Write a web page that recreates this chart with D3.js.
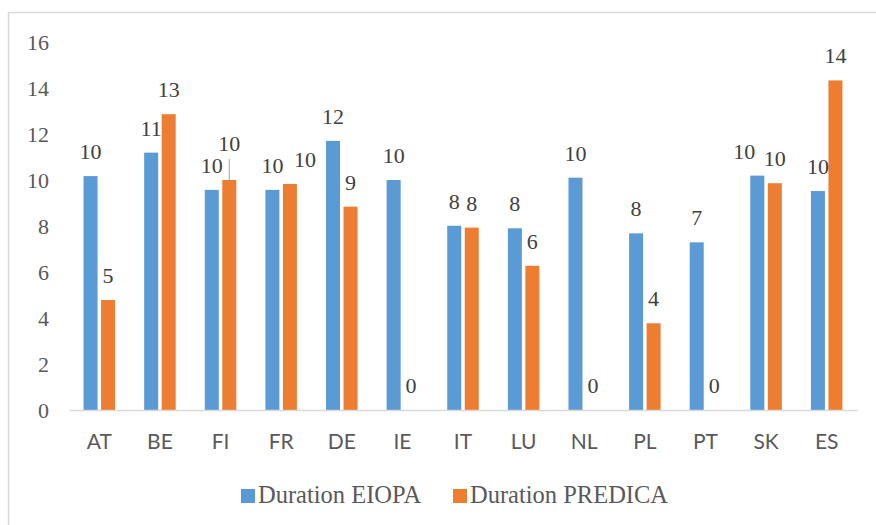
<!DOCTYPE html>
<html>
<head>
<meta charset="utf-8">
<script src="https://cdn.jsdelivr.net/npm/d3@7"></script>
<style>
  body { margin: 0; background: #fff; }
</style>
</head>
<body>
<div id="chart"></div>
<script>
// countries on the x axis
var countries = ["AT", "BE", "FI", "FR", "DE", "IE", "IT", "LU", "NL", "PL", "PT", "SK", "ES"];
var seriesNames = ["Duration EIOPA", "Duration PREDICA"];
// values
var durationEIOPA = [10.17, 11.19, 9.57, 9.57, 11.7, 10.0, 8.01, 7.9, 10.1, 7.68, 7.29, 10.19, 9.52];
var durationPREDICA = [4.78, 12.86, 10.0, 9.83, 8.84, 0, 7.93, 6.27, 0, 3.77, 0, 9.86, 14.33];
var yTicks = [0, 2, 4, 6, 8, 10, 12, 14, 16];

var colors = ["#5B9BD5", "#ED7D31"];

var W = 876, H = 525;
var margin = { top: 42, right: 19, bottom: 115, left: 69 };
var width = W - margin.left - margin.right;
var height = H - margin.top - margin.bottom;

var svg = d3.select("#chart")
  .append("svg")
  .attr("width", W)
  .attr("height", H);

// outer frame (cut at the right and bottom)
svg.append("rect")
  .attr("x", 8.5)
  .attr("y", 12.5)
  .attr("width", 900)
  .attr("height", 540)
  .attr("fill", "none")
  .attr("stroke", "#D9D9D9")
  .attr("stroke-width", 1.5);

var g = svg.append("g")
  .attr("transform", "translate(" + margin.left + "," + margin.top + ")");

// build rows from the arrays
var rows = countries.map(function (c, i) {
  return { country: c, values: [durationEIOPA[i], durationPREDICA[i]] };
});

var x0 = d3.scaleBand()
  .domain(countries)
  .range([0, width])
  .paddingInner(0.48)
  .paddingOuter(0.24);

var x1 = d3.scaleBand()
  .domain([0, 1])
  .range([0, x0.bandwidth()])
  .paddingInner(0.2);

var y = d3.scaleLinear()
  .domain([0, 16])
  .range([height, 0]);

// Y axis, no line, no ticks
var yAxis = g.append("g")
  .call(d3.axisLeft(y).tickValues(yTicks).tickSize(0).tickPadding(20));
yAxis.select(".domain").remove();
yAxis.selectAll("text")
  .style("font-family", "'Liberation Serif', 'Times New Roman', serif")
  .style("font-size", "22px")
  .style("fill", "#595959")
  .attr("dy", "0.34em");

// bars
var groups = g.append("g")
  .selectAll("g")
  .data(rows)
  .enter()
  .append("g")
  .attr("transform", function (d) { return "translate(" + x0(d.country) + ",0)"; });

groups.selectAll("rect")
  .data(function (d) { return d.values.map(function (v, k) { return { k: k, v: v, country: d.country }; }); })
  .enter()
  .append("rect")
  .attr("x", function (d) { return x1(d.k); })
  .attr("y", function (d) { return y(d.v); })
  .attr("width", x1.bandwidth())
  .attr("height", function (d) { return height - y(d.v); })
  .attr("fill", function (d) { return colors[d.k]; });

// X axis
var xAxis = g.append("g")
  .attr("transform", "translate(0," + height + ")")
  .call(d3.axisBottom(x0).tickSize(0).tickSizeOuter(0));
xAxis.select(".domain")
  .attr("stroke", "#D9D9D9")
  .attr("stroke-width", 1.5);
xAxis.selectAll("text")
  .attr("y", 39)
  .attr("dy", 0)
  .style("font-family", "Lato, 'Open Sans', sans-serif")
  .style("font-size", "21px")
  .style("fill", "#595959");

// label nudges like the original (Excel moved a few of them)
var nudge = { "FI1": [0, -12], "FR1": [15, 0], "SK0": [-13, 0] };

groups.selectAll("text.lbl")
  .data(function (d) { return d.values.map(function (v, k) { return { k: k, v: v, country: d.country }; }); })
  .enter()
  .append("text")
  .attr("class", "lbl")
  .attr("x", function (d) {
    var n = nudge[d.country + d.k] || [0, 0];
    return x1(d.k) + x1.bandwidth() / 2 + n[0];
  })
  .attr("y", function (d) {
    var n = nudge[d.country + d.k] || [0, 0];
    return y(d.v) - 17 + n[1];
  })
  .attr("text-anchor", "middle")
  .style("font-family", "'Liberation Serif', 'Times New Roman', serif")
  .style("font-size", "22px")
  .style("fill", "#404040")
  .text(function (d) { return Math.round(d.v); });

// leader line for the raised FI label
groups.filter(function (d) { return d.country === "FI"; })
  .append("line")
  .attr("x1", x1(1) + x1.bandwidth() / 2)
  .attr("x2", x1(1) + x1.bandwidth() / 2)
  .attr("y1", function (d) { return y(d.values[1]) - 21; })
  .attr("y2", function (d) { return y(d.values[1]); })
  .attr("stroke", "#A6A6A6")
  .attr("stroke-width", 1);

// legend
var legend = svg.append("g")
  .attr("transform", "translate(241,503)");
var legendX = [0, 212];
seriesNames.forEach(function (name, i) {
  var item = legend.append("g").attr("transform", "translate(" + legendX[i] + ",0)");
  item.append("rect")
    .attr("x", 0)
    .attr("y", -14)
    .attr("width", 14)
    .attr("height", 14)
    .attr("fill", colors[i]);
  item.append("text")
    .attr("x", 17)
    .attr("y", 0)
    .style("font-family", "'Liberation Serif', 'Times New Roman', serif")
    .style("font-size", "24.5px")
    .style("fill", "#595959")
    .text(name);
});
</script>
</body>
</html>
